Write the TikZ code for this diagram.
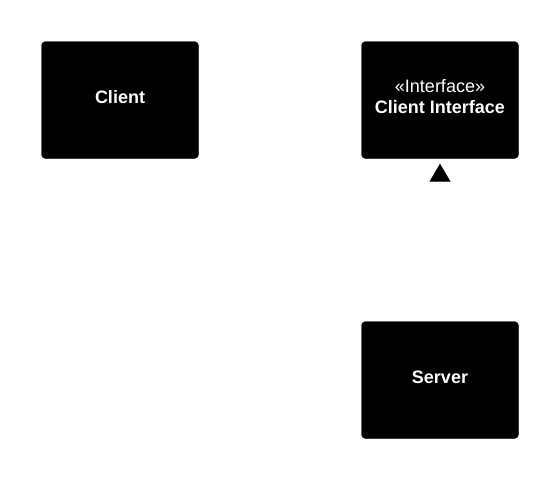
\documentclass[tikz,border=0pt]{standalone}
\usepackage{fontspec}
\setmainfont{Liberation Sans}
\usetikzlibrary{arrows.meta}
\begin{document}
\begin{tikzpicture}[x=1pt,y=-1pt,
  classbox/.style={fill=black,draw=black,rounded corners=4pt,minimum width=157pt,minimum height=117pt,inner sep=0pt},
  classtext/.style={label={[text=white,align=center,font=\fontsize{18}{21}\selectfont,yshift=3pt]center:#1}},
  realize/.style={draw=white,line width=1pt,shorten >=5pt,
    -{Triangle[width=21pt,length=18pt,fill=black,color=black]}}]
  \useasboundingbox (0,0) rectangle (560,480);
  \fill[white] (0,0) rectangle (560,480);
  \node[classbox,classtext={\textbf{Client}}] (client) at (120,100) {};
  \node[classbox,classtext={«Interface»\\\textbf{Client Interface}}] (iface) at (440,100) {};
  \node[classbox,classtext={\textbf{Server}}] (server) at (440,380) {};
  \draw[realize] (server.north) -- (iface.south);
\end{tikzpicture}
\end{document}
